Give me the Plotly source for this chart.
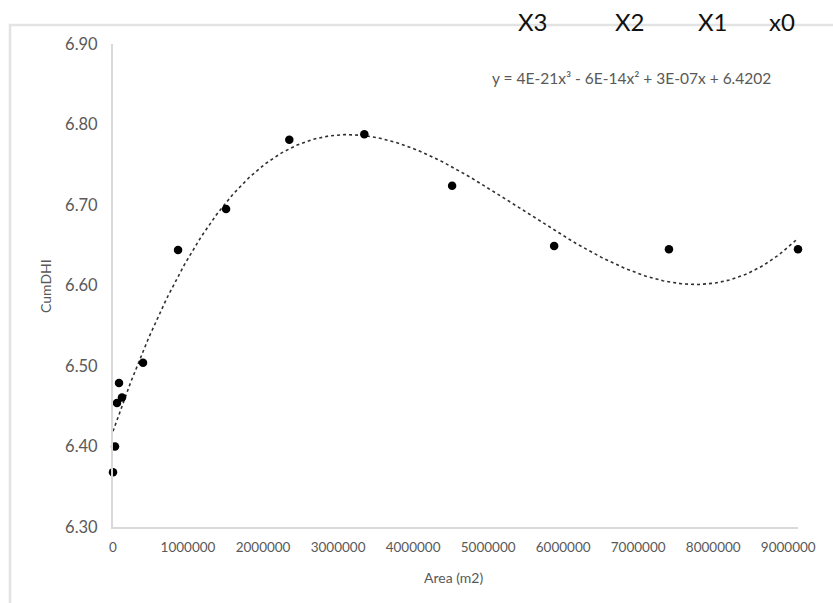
import numpy as np
import plotly.graph_objects as go

# Data
area_m2 = [0, 27000, 53000, 80000, 120000, 400000, 867000, 1507000,
           2350000, 3350000, 4520000, 5880000, 7410000, 9130000]
cum_dhi = [6.368, 6.400, 6.454, 6.479, 6.461, 6.504, 6.644, 6.695,
           6.781, 6.788, 6.724, 6.649, 6.645, 6.645]
x_ticks = [0, 1000000, 2000000, 3000000, 4000000, 5000000, 6000000, 7000000, 8000000, 9000000]
y_ticks = [6.30, 6.40, 6.50, 6.60, 6.70, 6.80, 6.90]
equation = "y = 4E-21x³ - 6E-14x² + 3E-07x + 6.4202"
top_labels = ["X3", "X2", "X1", "x0"]

# Polynomial (order 3) trendline fitted to the data
coef = np.polyfit(np.array(area_m2, float), np.array(cum_dhi, float), 3)
xs = np.linspace(min(area_m2), max(area_m2), 300)
ys = np.polyval(coef, xs)

fig = go.Figure()
fig.add_trace(go.Scatter(x=xs, y=ys, mode="lines",
                         line=dict(color="#303030", width=1.6, dash="dot"),
                         hoverinfo="skip", showlegend=False))
fig.add_trace(go.Scatter(x=area_m2, y=cum_dhi, mode="markers",
                         marker=dict(color="black", size=8.5),
                         cliponaxis=False, showlegend=False))

W, H = 833, 603
L, R, T, B = 113, 35, 44, 76
pw, ph = W - L - R, H - T - B

def px_x(p):
    return (p - L) / pw

def px_y(p):
    return (H - B - p) / ph

tick_font_y = dict(family="Lato, Carlito, sans-serif", size=16.5, color="#595959")
tick_font_x = dict(family="Lato, Carlito, sans-serif", size=13.5, color="#595959")

fig.update_layout(
    width=W, height=H,
    margin=dict(l=L, r=R, t=T, b=B),
    paper_bgcolor="white", plot_bgcolor="white",
    xaxis=dict(range=[0, 9130000], tickvals=x_ticks,
               ticktext=[str(v) for v in x_ticks],
               showgrid=False, zeroline=False, showline=True,
               linecolor="#d9d9d9", linewidth=2, ticks="",
               ticklabelstandoff=7,
               tickfont=tick_font_x),
    yaxis=dict(range=[6.30, 6.90], tickvals=y_ticks,
               ticktext=[f"{v:.2f}" for v in y_ticks],
               showgrid=False, zeroline=False, showline=True,
               linecolor="#d9d9d9", linewidth=2, ticks="",
               ticklabelstandoff=10,
               tickfont=tick_font_y),
    shapes=[dict(type="rect", xref="paper", yref="paper",
                 x0=px_x(10), x1=px_x(900), y0=px_y(700), y1=px_y(25),
                 line=dict(color="#e3e3e3", width=2.5), layer="below")],
)

ann_font = dict(family="Lato, Carlito, sans-serif", color="#595959")
common = dict(xref="paper", yref="paper", showarrow=False,
              xanchor="center", yanchor="middle")
fig.add_annotation(x=px_x(453), y=px_y(577), text="Area (m2)",
                   font=dict(size=14, **ann_font), **common)
fig.add_annotation(x=px_x(45), y=px_y(286), text="CumDHI", textangle=-90,
                   font=dict(size=14, **ann_font), **common)
fig.add_annotation(x=px_x(631), y=px_y(78), text=equation,
                   font=dict(size=15.5, **ann_font), **common)
for lab, cx in zip(top_labels, [533, 630, 713, 782]):
    fig.add_annotation(x=px_x(cx), y=px_y(22), text=lab,
                       font=dict(family="Lato, Carlito, sans-serif", size=24, color="#111111"),
                       **common)

fig.write_html("out.html")
